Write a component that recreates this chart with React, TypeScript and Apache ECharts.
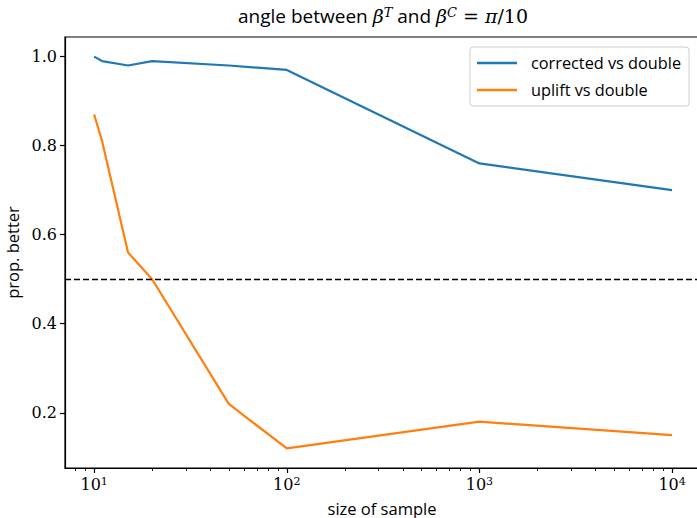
import React, { useEffect, useRef } from "react";
import * as echarts from "echarts";

const sampleSizes = [10, 11, 15, 20, 50, 100, 1000, 10000];
const correctedVals = [1.0, 0.99, 0.98, 0.99, 0.98, 0.97, 0.76, 0.7];
const upliftVals = [0.87, 0.81, 0.56, 0.5, 0.22, 0.12, 0.18, 0.15];
const xMajorTicks = [10, 100, 1000, 10000];
const xMinorTicks = [8, 9, 20, 30, 40, 50, 60, 70, 80, 90, 200, 300, 400, 500, 600, 700, 800, 900, 2000, 3000, 4000, 5000, 6000, 7000, 8000, 9000];
const yTicks = [0.2, 0.4, 0.6, 0.8, 1.0];
const threshold = 0.5;

const SERIF = "'DejaVu Serif', 'Liberation Serif', serif";
const SANS = "'Open Sans', 'Liberation Sans', sans-serif";

export default function App() {
  const ref = useRef<HTMLDivElement>(null);
  useEffect(() => {
    if (!ref.current) return;
    const chart = echarts.init(ref.current, undefined, { renderer: "svg" });
    const supRich = {
      b: { fontFamily: SERIF, fontSize: 16, color: "#000", verticalAlign: "bottom" },
      s: { fontFamily: SERIF, fontSize: 11, color: "#000", verticalAlign: "top" },
    };
    chart.setOption({
      animation: false,
      backgroundColor: "#fff",
      title: {
        text: "{a|angle between }{m|β}{s|T}{a| and }{m|β}{s|C}{r| = }{m|π}{r|/10}",
        left: 378,
        textAlign: "center",
        top: 1,
        textStyle: {
          fontWeight: "normal",
          rich: {
            a: { fontFamily: SANS, fontSize: 19, fontWeight: "normal", color: "#000", verticalAlign: "bottom" },
            m: { fontFamily: SERIF, fontStyle: "italic", fontWeight: "normal", fontSize: 19, color: "#000", verticalAlign: "bottom" },
            r: { fontFamily: SERIF, fontWeight: "normal", fontSize: 19, color: "#000", verticalAlign: "bottom" },
            s: { fontFamily: SERIF, fontStyle: "italic", fontWeight: "normal", fontSize: 13, color: "#000", verticalAlign: "top" },
          },
        },
      },
      grid: {
        left: 65, right: -2, top: 37, bottom: 50,
        containLabel: false,
        outerBoundsMode: "none",
        show: true, borderColor: "#000", borderWidth: 1.2, backgroundColor: "transparent",
      },
      legend: {
        left: 470,
        top: 47,
        orient: "vertical",
        icon: "rect",
        itemWidth: 40,
        itemHeight: 2.3,
        itemGap: 9,
        padding: [7, 8, 7, 7],
        borderColor: "#cccccc",
        borderWidth: 1,
        borderRadius: 3,
        backgroundColor: "rgba(255,255,255,0.8)",
        textStyle: { fontFamily: SANS, fontSize: 16.3, lineHeight: 18, color: "#000", padding: [0, 0, 0, 9] },
        data: ["corrected vs double", "uplift vs double"],
      },
      xAxis: [
        {
          type: "log",
          logBase: 10,
          min: 7.06,
          max: 13800,
          name: "size of sample",
          nameLocation: "middle",
          nameGap: 31,
          nameTextStyle: { fontFamily: SANS, fontSize: 16.5, lineHeight: 18, color: "#000" },
          axisLine: { show: true, lineStyle: { color: "#000", width: 1.2 } },
          axisTick: { show: true, customValues: xMajorTicks, length: 5, lineStyle: { color: "#000", width: 1.2 } },
          axisLabel: {
            customValues: xMajorTicks,
            margin: 8,
            formatter: (v: number) => `{b|10}{s|${Math.round(Math.log10(v))}}`,
            rich: supRich,
          },
          splitLine: { show: false },
          minorTick: { show: false },
        },
        {
          type: "log",
          logBase: 10,
          min: 7.06,
          max: 13800,
          position: "bottom",
          axisLine: { show: false },
          axisTick: { show: true, customValues: xMinorTicks, length: 3, lineStyle: { color: "#000", width: 0.9 } },
          axisLabel: { show: false },
          splitLine: { show: false },
        },
      ],
      yAxis: {
        type: "value",
        min: 0.076,
        max: 1.044,
        name: "prop. better",
        nameLocation: "middle",
        nameGap: 44,
        nameTextStyle: { fontFamily: SANS, fontSize: 16.5, color: "#000" },
        axisLine: { show: true, lineStyle: { color: "#000", width: 1.2 } },
        axisTick: { show: true, customValues: yTicks, length: 5, lineStyle: { color: "#000", width: 1.2 } },
        axisLabel: {
          customValues: yTicks,
          margin: 8,
          fontFamily: SERIF,
          fontSize: 16,
          color: "#000",
          formatter: (v: number) => v.toFixed(1),
        },
        splitLine: { show: false },
      },
      series: [
        {
          name: "corrected vs double",
          type: "line",
          xAxisIndex: 0,
          data: sampleSizes.map((x, i) => [x, correctedVals[i]]),
          showSymbol: false,
          symbol: "none",
          color: "#1f77b4",
          lineStyle: { width: 2.2, color: "#1f77b4" },
          markLine: {
            silent: true,
            symbol: ["none", "none"],
            label: { show: false },
            lineStyle: { color: "#000", width: 1.4, type: [6, 3] },
            data: [{ yAxis: threshold }],
          },
        },
        {
          name: "uplift vs double",
          type: "line",
          xAxisIndex: 0,
          data: sampleSizes.map((x, i) => [x, upliftVals[i]]),
          showSymbol: false,
          symbol: "none",
          color: "#ff7f0e",
          lineStyle: { width: 2.2, color: "#ff7f0e" },
        },
      ],
    });
    return () => chart.dispose();
  }, []);
  return <div ref={ref} style={{ width: 697, height: 518, position: "absolute", left: 0, top: 0 }} />;
}
